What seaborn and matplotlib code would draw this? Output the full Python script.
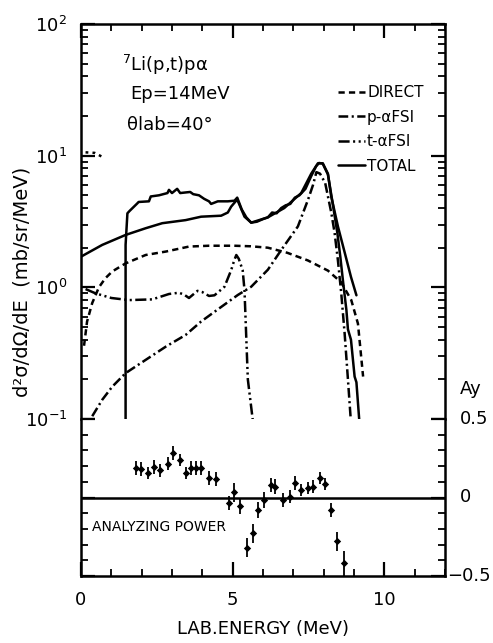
import matplotlib
matplotlib.use("Agg")
import matplotlib.pyplot as plt
import numpy as np
import seaborn as sns
from matplotlib.ticker import FixedLocator, LogLocator, MultipleLocator, NullFormatter

sns.set_style("ticks")
plt.rcParams["font.family"] = ["DejaVu Sans"]
plt.rcParams["mathtext.default"] = "regular"
plt.rcParams["lines.scale_dashes"] = False
for key in ("text.color", "axes.labelcolor", "xtick.color", "ytick.color", "axes.edgecolor"):
    plt.rcParams[key] = "black"

# cross sections (mb/sr/MeV) vs triton lab energy (MeV)
direct_e = [0.1, 0.2, 0.37, 0.59, 0.8, 1.03, 1.47, 2.13, 2.8, 3.56, 4.22, 5.05, 5.6,
            6.16, 6.8, 7.48, 8.14, 8.58, 8.91, 9.13, 9.3]
direct_v = [0.36, 0.55, 0.76, 1.0, 1.17, 1.32, 1.52, 1.76, 1.87, 2.04, 2.07, 2.07, 2.05,
            2.0, 1.83, 1.6, 1.34, 1.09, 0.8, 0.53, 0.21]

pa_e = [0.37, 0.7, 1.03, 1.47, 2.13, 2.8, 3.45, 3.96, 4.51, 5.17, 5.61, 6.16, 6.6,
        7.15, 7.48, 7.65, 7.76, 7.88, 8.05, 8.25, 8.36, 8.47, 8.58, 8.69, 8.8, 8.91]
pa_v = [0.105, 0.14, 0.176, 0.223, 0.281, 0.355, 0.435, 0.55, 0.68, 0.875, 1.01, 1.36, 1.92,
        2.9, 4.6, 6.0, 7.5, 7.3, 6.2, 3.7, 2.6, 1.6, 0.9, 0.45, 0.2, 0.087]

ta_e = [0.15, 0.48, 1.0, 1.58, 2.35, 2.9, 3.23, 3.4, 3.56, 3.84, 4.0, 4.22, 4.4,
        4.73, 4.95, 5.05, 5.12, 5.2, 5.33, 5.39, 5.5, 5.67]
ta_v = [0.97, 0.90, 0.83, 0.80, 0.81, 0.89, 0.91, 0.88, 0.83, 0.94, 0.92, 0.86, 0.87,
        1.01, 1.35, 1.6, 1.76, 1.65, 1.35, 0.95, 0.2, 0.095]

total_e = [0.0, 0.7, 1.47, 2.13, 2.68, 3.45, 3.96, 4.62, 4.84, 4.95, 5.15, 5.39, 5.61,
           6.16, 6.7, 7.26, 7.59, 7.81, 7.97, 8.14, 8.25, 8.47, 8.69, 8.9, 9.08]
total_v = [1.71, 2.1, 2.5, 2.81, 3.07, 3.24, 3.44, 3.5, 3.7, 4.1, 4.65, 3.44, 3.1,
           3.4, 4.0, 5.2, 7.3, 8.75, 8.75, 7.3, 4.9, 2.9, 1.85, 1.2, 0.87]

# measured spectrum (histogram trace)
data_e = [1.47, 1.47, 1.53, 1.6, 1.86, 1.9, 2.24, 2.3, 2.57, 2.85, 2.9, 3.0, 3.17, 3.27,
          3.43, 3.6, 3.7, 3.89, 4.06, 4.22, 4.29, 4.51, 4.84, 5.06, 5.15, 5.3, 5.45, 5.61,
          5.8, 6.0, 6.16, 6.3, 6.45, 6.6, 6.75, 6.9, 7.05, 7.2, 7.4, 7.59, 7.75, 7.85,
          7.97, 8.14, 8.3, 8.45, 8.55, 8.64, 8.75, 8.8, 8.9, 9.02, 9.08, 9.19]
data_v = [0.1, 2.1, 3.65, 3.8, 4.35, 4.45, 4.5, 4.9, 5.0, 5.2, 5.5, 5.2, 5.6, 5.2,
          5.25, 5.3, 5.1, 5.0, 4.7, 4.5, 4.3, 4.5, 4.5, 4.55, 4.8, 3.9, 3.4, 3.1,
          3.15, 3.3, 3.4, 3.7, 3.65, 4.0, 4.2, 4.3, 4.8, 5.0, 5.6, 7.0, 8.3, 8.8,
          8.7, 7.2, 4.3, 2.6, 1.7, 1.1, 0.67, 0.48, 0.4, 0.21, 0.19, 0.087]

stray_e = [0.15, 0.45, 0.7]
stray_v = [10.6, 10.5, 9.8]

# analyzing power
ay_e = [1.82, 1.98, 2.2, 2.42, 2.62, 2.86, 3.02, 3.27, 3.47, 3.63, 3.8, 3.96, 4.23, 4.46,
        4.87, 5.04, 5.23, 5.48, 5.67, 5.85, 6.03, 6.25, 6.41, 6.65, 6.88, 7.07, 7.26,
        7.48, 7.65, 7.87, 8.05, 8.25, 8.45, 8.66]
ay_v = [0.187, 0.18, 0.155, 0.197, 0.172, 0.215, 0.283, 0.24, 0.155, 0.187, 0.187, 0.187,
        0.124, 0.117, -0.036, 0.032, -0.057, -0.32, -0.227, -0.078, -0.015, 0.081, 0.07,
        -0.015, 0.006, 0.092, 0.049, 0.06, 0.07, 0.124, 0.087, -0.078, -0.28, -0.418]
ay_err = [0.045, 0.045, 0.04, 0.045, 0.04, 0.04, 0.045, 0.04, 0.04, 0.045, 0.045, 0.045,
          0.045, 0.045, 0.045, 0.06, 0.045, 0.06, 0.06, 0.05, 0.05, 0.045, 0.045,
          0.045, 0.04, 0.045, 0.04, 0.04, 0.04, 0.04, 0.04, 0.045, 0.06, 0.08]

LS_DIRECT = (0, (4.5, 3))
LS_PA = (0, (7, 2.5, 1.5, 2.5))
LS_TA = (0, (8, 2.5, 1.5, 2.5, 1.5, 2.5))
LW = 1.8

W, H = 493, 643
fig = plt.figure(figsize=(W / 100, H / 100), dpi=100)
ax1 = fig.add_axes([81 / W, (H - 419) / H, 364 / W, 395 / H])
ax2 = fig.add_axes([81 / W, (H - 576) / H, 364 / W, 157 / H])

line_kw = dict(color="black", linewidth=LW, sort=False, estimator=None, legend=False)
sns.lineplot(x=direct_e, y=direct_v, ax=ax1, linestyle=LS_DIRECT, **line_kw)
h_direct = ax1.lines[-1]
sns.lineplot(x=pa_e, y=pa_v, ax=ax1, linestyle=LS_PA, **line_kw)
h_pa = ax1.lines[-1]
sns.lineplot(x=ta_e, y=ta_v, ax=ax1, linestyle=LS_TA, **line_kw)
h_ta = ax1.lines[-1]
sns.lineplot(x=total_e, y=total_v, ax=ax1, linestyle="-", **line_kw)
h_total = ax1.lines[-1]
sns.lineplot(x=data_e, y=data_v, ax=ax1, linestyle="-", **line_kw)
sns.lineplot(x=stray_e, y=stray_v, ax=ax1, linestyle=(0, (2, 3)), **line_kw)

ax1.set_yscale("log")
ax1.set_xlim(0, 12)
ax1.set_ylim(0.1, 100)
ax1.set_xlabel("")
ax1.set_ylabel("")
ax1.set_yticks([0.1, 1, 10, 100], ["$10^{-1}$", "$10^{0}$", "$10^{1}$", "$10^{2}$"])
ax1.yaxis.set_minor_locator(LogLocator(base=10, subs=np.arange(2, 10), numticks=20))
ax1.yaxis.set_minor_formatter(NullFormatter())
ax1.xaxis.set_major_locator(MultipleLocator(5))
ax1.xaxis.set_minor_locator(MultipleLocator(1))
ax1.tick_params(axis="y", which="both", direction="in", left=True, right=True,
                labelleft=True, labelright=False)
ax1.tick_params(axis="x", which="both", direction="in", top=True, bottom=False,
                labelbottom=False, labeltop=False)
ax1.tick_params(which="major", length=10, width=1.6, labelsize=13, pad=10)
ax1.tick_params(which="minor", length=5, width=1.3)
ax1.spines["bottom"].set_visible(False)

ax1.text(0.113, 0.896, "$^{7}$Li(p,t)pα", transform=ax1.transAxes, fontsize=13, va="center")
ax1.text(0.135, 0.823, "Ep=14MeV", transform=ax1.transAxes, fontsize=13, va="center")
ax1.text(0.126, 0.744, "θlab=40°", transform=ax1.transAxes, fontsize=13, va="center")

ax1.legend([h_direct, h_pa, h_ta, h_total], ["DIRECT", "p-αFSI", "t-αFSI", "TOTAL"],
           loc="upper left", bbox_to_anchor=(0.706, 0.845), frameon=False, fontsize=11,
           handlelength=1.75, handletextpad=0.15, labelspacing=0.62, borderpad=0,
           borderaxespad=0)

# analyzing power panel
ax2.axhline(0, color="black", linewidth=LW)
ax2.errorbar(ay_e, ay_v, yerr=ay_err, fmt="none", ecolor="black", elinewidth=1.3, capsize=0)
sns.scatterplot(x=ay_e, y=ay_v, ax=ax2, marker="D", s=14, color="black", linewidth=0)

ax2.set_xlim(0, 12)
ax2.set_ylim(-0.5, 0.5)
ax2.xaxis.set_major_locator(MultipleLocator(5))
ax2.xaxis.set_minor_locator(MultipleLocator(1))
ax2.yaxis.set_major_locator(FixedLocator([-0.5, 0, 0.5]))
ax2.yaxis.set_minor_locator(MultipleLocator(0.1))
ax2.tick_params(axis="x", which="both", direction="in", bottom=True, top=False)
ax2.tick_params(axis="y", which="both", direction="in", left=True, right=True,
                labelleft=False, labelright=False)
ax2.tick_params(which="major", length=10, width=1.6, labelsize=13, pad=11)
ax2.tick_params(which="minor", length=5, width=1.3)
ax2.spines["top"].set_visible(False)
ax2.set_xlabel("LAB.ENERGY (MeV)", fontsize=13, labelpad=8)
ax2.set_ylabel("")

ax2.text(0.03, 0.312, "ANALYZING POWER", transform=ax2.transAxes, fontsize=10, va="center")
ytr = ax2.get_yaxis_transform()
ax2.text(1.041, 0.69, "Ay", transform=ytr, fontsize=13, va="center", clip_on=False)
ax2.text(1.041, 0.5, "0.5", transform=ytr, fontsize=13, va="center", clip_on=False)
ax2.text(1.041, 0.0, "0", transform=ytr, fontsize=13, va="center", clip_on=False)
ax2.text(1.005, -0.5, "−0.5", transform=ytr, fontsize=13, va="center", clip_on=False)

for ax in (ax1, ax2):
    for sp in ax.spines.values():
        sp.set_linewidth(1.8)

fig.text(22 / W, 1 - 282 / H, "d²σ/dΩ/dE  (mb/sr/MeV)", rotation=90,
         ha="center", va="center", fontsize=14)

fig.savefig("out.png", dpi=100)
